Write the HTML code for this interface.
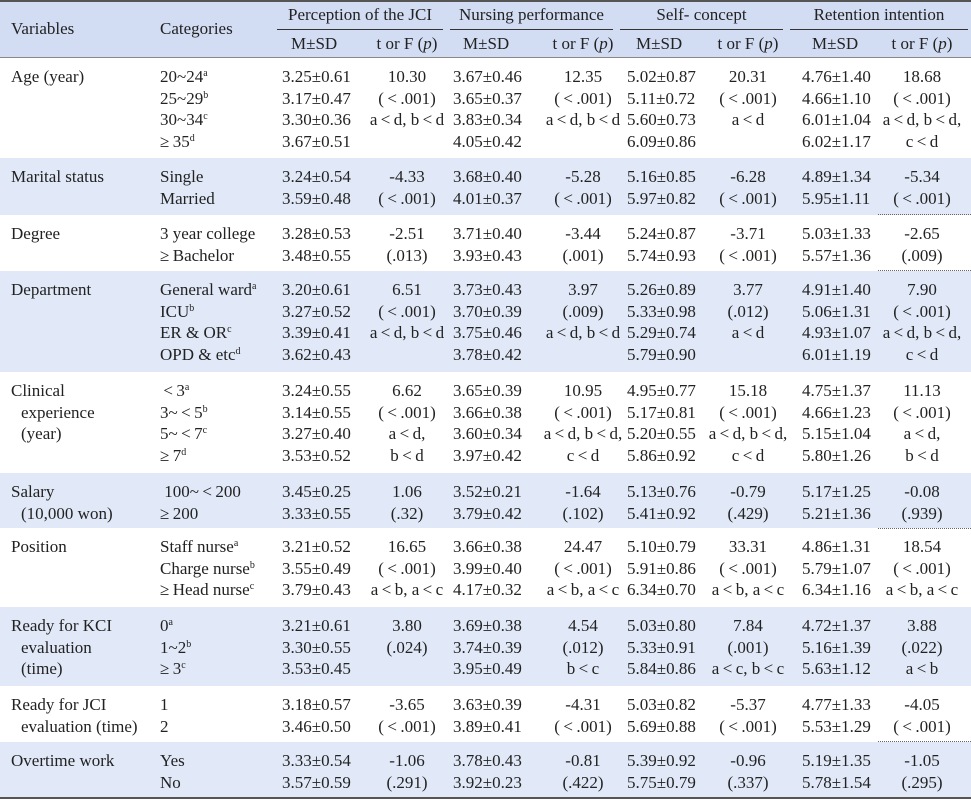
<!DOCTYPE html>
<html><head><meta charset="utf-8">
<style>
html,body{margin:0;padding:0;background:#fff}
#t{position:relative;width:971px;height:800px;overflow:hidden;font-family:"Liberation Serif","DejaVu Serif",serif;font-size:17px;color:#222}
.band{position:absolute;left:0;width:971px}
.c{position:absolute;line-height:21.7px;white-space:nowrap}
.ctr{text-align:center;width:110px}
sup{font-size:10px;vertical-align:top;position:relative;top:-3px}
.in{padding-left:10px}
.hd{position:absolute;white-space:nowrap}
.ul{position:absolute;top:29px;height:1px;background:#333}
.dot{position:absolute;left:878px;width:93px;border-top:1px dotted #666;height:0}
</style></head>
<body>
<div id="t">
  <div class="band" style="top:0;height:2px;background:#555"></div>
  <div class="band" style="top:2px;height:55px;background:#d2ddf4"></div>
  <div class="hd" style="left:11px;top:19px">Variables</div>
  <div class="hd" style="left:160px;top:19px">Categories</div>
  <div class="hd" style="left:277px;width:166px;text-align:center;top:5px">Perception of the JCI</div>
  <div class="hd" style="left:450px;width:163px;text-align:center;top:5px">Nursing performance</div>
  <div class="hd" style="left:620px;width:163px;text-align:center;top:5px">Self- concept</div>
  <div class="hd" style="left:790px;width:178px;text-align:center;top:5px">Retention intention</div>
  <div class="ul" style="left:277px;width:166px"></div>
  <div class="ul" style="left:450px;width:163px"></div>
  <div class="ul" style="left:620px;width:163px"></div>
  <div class="ul" style="left:790px;width:178px"></div>
  <div class="hd" style="left:291px;top:34px">M±SD</div>
  <div class="hd" style="left:352px;width:110px;text-align:center;top:34px">t or F (<i>p</i>)</div>
  <div class="hd" style="left:463px;top:34px">M±SD</div>
  <div class="hd" style="left:528px;width:110px;text-align:center;top:34px">t or F (<i>p</i>)</div>
  <div class="hd" style="left:636px;top:34px">M±SD</div>
  <div class="hd" style="left:693px;width:110px;text-align:center;top:34px">t or F (<i>p</i>)</div>
  <div class="hd" style="left:812px;top:34px">M±SD</div>
  <div class="hd" style="left:867px;width:110px;text-align:center;top:34px">t or F (<i>p</i>)</div>
  <div class="band" style="top:57px;height:1px;background:#888"></div>
</div>
<script>
var bandTops=[58,158,215,271,372,473,528,607,686,742];
var bandBottoms=[158,215,271,372,473,528,607,686,742,797];
var bandBlue=[0,1,0,1,0,1,0,1,0,1];
var variables=[
 ["Age (year)"],["Marital status"],["Degree"],["Department"],
 ["Clinical","<span class='in'>experience</span>","<span class='in'>(year)</span>"],
 ["Salary","<span class='in'>(10,000 won)</span>"],["Position"],
 ["Ready for KCI","<span class='in'>evaluation</span>","<span class='in'>(time)</span>"],
 ["Ready for JCI","<span class='in'>evaluation (time)</span>"],["Overtime work"]];
var categories=[
 ["20~24<sup>a</sup>","25~29<sup>b</sup>","30~34<sup>c</sup>","≥35<sup>d</sup>"],
 ["Single","Married"],["3 year college","≥Bachelor"],
 ["General ward<sup>a</sup>","ICU<sup>b</sup>","ER &amp; OR<sup>c</sup>","OPD &amp; etc<sup>d</sup>"],
 ["&lt;3<sup>a</sup>","3~&lt;5<sup>b</sup>","5~&lt;7<sup>c</sup>","≥7<sup>d</sup>"],
 ["&nbsp;100~&lt;200","≥200"],
 ["Staff nurse<sup>a</sup>","Charge nurse<sup>b</sup>","≥Head nurse<sup>c</sup>"],
 ["0<sup>a</sup>","1~2<sup>b</sup>","≥3<sup>c</sup>"],["1","2"],["Yes","No"]];
var jciM=[["3.25±0.61","3.17±0.47","3.30±0.36","3.67±0.51"],["3.24±0.54","3.59±0.48"],["3.28±0.53","3.48±0.55"],["3.20±0.61","3.27±0.52","3.39±0.41","3.62±0.43"],["3.24±0.55","3.14±0.55","3.27±0.40","3.53±0.52"],["3.45±0.25","3.33±0.55"],["3.21±0.52","3.55±0.49","3.79±0.43"],["3.21±0.61","3.30±0.55","3.53±0.45"],["3.18±0.57","3.46±0.50"],["3.33±0.54","3.57±0.59"]];
var jciT=[["10.30","(&lt;.001)","a&lt;d, b&lt;d"],["-4.33","(&lt;.001)"],["-2.51","(.013)"],["6.51","(&lt;.001)","a&lt;d, b&lt;d"],["6.62","(&lt;.001)","a&lt;d,","b&lt;d"],["1.06","(.32)"],["16.65","(&lt;.001)","a&lt;b, a&lt;c"],["3.80","(.024)"],["-3.65","(&lt;.001)"],["-1.06","(.291)"]];
var nurM=[["3.67±0.46","3.65±0.37","3.83±0.34","4.05±0.42"],["3.68±0.40","4.01±0.37"],["3.71±0.40","3.93±0.43"],["3.73±0.43","3.70±0.39","3.75±0.46","3.78±0.42"],["3.65±0.39","3.66±0.38","3.60±0.34","3.97±0.42"],["3.52±0.21","3.79±0.42"],["3.66±0.38","3.99±0.40","4.17±0.32"],["3.69±0.38","3.74±0.39","3.95±0.49"],["3.63±0.39","3.89±0.41"],["3.78±0.43","3.92±0.23"]];
var nurT=[["12.35","(&lt;.001)","a&lt;d, b&lt;d"],["-5.28","(&lt;.001)"],["-3.44","(.001)"],["3.97","(.009)","a&lt;d, b&lt;d"],["10.95","(&lt;.001)","a&lt;d, b&lt;d,","c&lt;d"],["-1.64","(.102)"],["24.47","(&lt;.001)","a&lt;b, a&lt;c"],["4.54","(.012)","b&lt;c"],["-4.31","(&lt;.001)"],["-0.81","(.422)"]];
var selfM=[["5.02±0.87","5.11±0.72","5.60±0.73","6.09±0.86"],["5.16±0.85","5.97±0.82"],["5.24±0.87","5.74±0.93"],["5.26±0.89","5.33±0.98","5.29±0.74","5.79±0.90"],["4.95±0.77","5.17±0.81","5.20±0.55","5.86±0.92"],["5.13±0.76","5.41±0.92"],["5.10±0.79","5.91±0.86","6.34±0.70"],["5.03±0.80","5.33±0.91","5.84±0.86"],["5.03±0.82","5.69±0.88"],["5.39±0.92","5.75±0.79"]];
var selfT=[["20.31","(&lt;.001)","a&lt;d"],["-6.28","(&lt;.001)"],["-3.71","(&lt;.001)"],["3.77","(.012)","a&lt;d"],["15.18","(&lt;.001)","a&lt;d, b&lt;d,","c&lt;d"],["-0.79","(.429)"],["33.31","(&lt;.001)","a&lt;b, a&lt;c"],["7.84","(.001)","a&lt;c, b&lt;c"],["-5.37","(&lt;.001)"],["-0.96","(.337)"]];
var retM=[["4.76±1.40","4.66±1.10","6.01±1.04","6.02±1.17"],["4.89±1.34","5.95±1.11"],["5.03±1.33","5.57±1.36"],["4.91±1.40","5.06±1.31","4.93±1.07","6.01±1.19"],["4.75±1.37","4.66±1.23","5.15±1.04","5.80±1.26"],["5.17±1.25","5.21±1.36"],["4.86±1.31","5.79±1.07","6.34±1.16"],["4.72±1.37","5.16±1.39","5.63±1.12"],["4.77±1.33","5.53±1.29"],["5.19±1.35","5.78±1.54"]];
var retT=[["18.68","(&lt;.001)","a&lt;d, b&lt;d,","c&lt;d"],["-5.34","(&lt;.001)"],["-2.65","(.009)"],["7.90","(&lt;.001)","a&lt;d, b&lt;d,","c&lt;d"],["11.13","(&lt;.001)","a&lt;d,","b&lt;d"],["-0.08","(.939)"],["18.54","(&lt;.001)","a&lt;b, a&lt;c"],["3.88","(.022)","a&lt;b"],["-4.05","(&lt;.001)"],["-1.05","(.295)"]];
var dottedRuleTops=[214,270,528,741];

var root=document.getElementById('t');
function cell(html,left,top,center){
  var d=document.createElement('div');
  d.className=center?'c ctr':'c';
  d.style.left=left+'px';d.style.top=top+'px';
  d.innerHTML=html.join('<br>').split('&lt;').join('&thinsp;&lt;&thinsp;').split('≥').join('≥&thinsp;');
  root.appendChild(d);
  return d;
}
for(var i=0;i<bandTops.length;i++){
  var b=document.createElement('div');
  b.className='band';
  b.style.top=bandTops[i]+'px';
  b.style.height=(bandBottoms[i]-bandTops[i])+'px';
  b.style.background=bandBlue[i]?'#e1e9f8':'#fff';
  
  
  root.appendChild(b);
}
for(var i=0;i<bandTops.length;i++){
  var y=bandTops[i]+8;
  var e;
  e=cell(variables[i],11,y,false);
  
  
  e=cell(categories[i],160,y,false);
  
  
  e=cell(jciM[i],282,y,false);
  
  
  e=cell(jciT[i],352,y,true);
  
  
  e=cell(nurM[i],453,y,false);
  
  
  e=cell(nurT[i],528,y,true);
  
  
  e=cell(selfM[i],627,y,false);
  
  
  e=cell(selfT[i],693,y,true);
  
  
  e=cell(retM[i],802,y,false);
  
  
  e=cell(retT[i],867,y,true);
  
  
}
for(var k=0;k<dottedRuleTops.length;k++){
  var dl=document.createElement('div');
  dl.className='dot';
  dl.style.top=dottedRuleTops[k]+'px';
  
  
  root.appendChild(dl);
}
var br=document.createElement('div');
br.className='band';
br.style.top='797px';br.style.height='2px';br.style.background='#555';


root.appendChild(br);
</script>
</body></html>
